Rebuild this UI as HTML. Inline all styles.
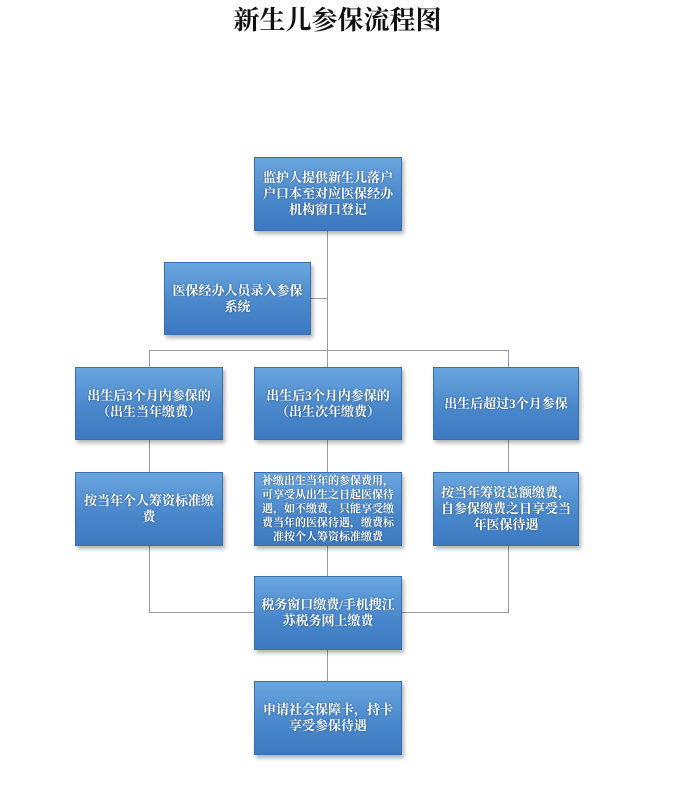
<!DOCTYPE html>
<html><head><meta charset="utf-8"><style>
body{margin:0;width:675px;height:800px;background:#fff;position:relative;font-family:"Liberation Sans","Noto Sans CJK SC",sans-serif;overflow:hidden}
h1{position:absolute;top:0;left:0;width:675px;text-align:center;margin:0;font:bold 26px "Noto Serif CJK SC","Noto Sans CJK SC",serif;line-height:38px;color:#111}
.b{position:absolute;box-sizing:border-box;background:linear-gradient(#6aa6de,#4a88cc 55%,#3d79c0);border:1px solid #3a6fae;box-shadow:2px 3px 4px rgba(0,0,0,.3);color:#fff;font-size:13px;line-height:16px;text-align:center;display:flex;align-items:center;justify-content:center;padding:0 6px;text-shadow:0 0 2px rgba(0,0,0,.4);font-family:"Liberation Serif","Noto Serif CJK SC",serif;font-weight:bold}
.s{font-size:11px;line-height:14px;padding:0 3px}
.l{position:absolute;background:#9a9a9a}
</style></head><body>
<h1>新生儿参保流程图</h1>
<div class="l" style="left:327px;top:231px;width:1px;height:137px"></div>
<div class="l" style="left:311px;top:298px;width:17px;height:1px"></div>
<div class="l" style="left:149px;top:350px;width:360px;height:1px"></div>
<div class="l" style="left:149px;top:350px;width:1px;height:17px"></div>
<div class="l" style="left:508px;top:350px;width:1px;height:17px"></div>
<div class="l" style="left:149px;top:440px;width:1px;height:32px"></div>
<div class="l" style="left:327px;top:440px;width:1px;height:32px"></div>
<div class="l" style="left:508px;top:440px;width:1px;height:32px"></div>
<div class="l" style="left:149px;top:546px;width:1px;height:67px"></div>
<div class="l" style="left:149px;top:612px;width:105px;height:1px"></div>
<div class="l" style="left:327px;top:546px;width:1px;height:30px"></div>
<div class="l" style="left:508px;top:546px;width:1px;height:67px"></div>
<div class="l" style="left:402px;top:612px;width:107px;height:1px"></div>
<div class="l" style="left:327px;top:650px;width:1px;height:31px"></div>

<div class="b" style="left:254px;top:157px;width:148px;height:74px">监护人提供新生儿落户户口本至对应医保经办机构窗口登记</div>
<div class="b" style="left:164px;top:262px;width:147px;height:73px">医保经办人员录入参保系统</div>
<div class="b" style="left:75px;top:367px;width:148px;height:73px">出生后3个月内参保的（出生当年缴费）</div>
<div class="b" style="left:254px;top:367px;width:148px;height:73px">出生后3个月内参保的（出生次年缴费）</div>
<div class="b" style="left:433px;top:367px;width:146px;height:73px">出生后超过3个月参保</div>
<div class="b" style="left:75px;top:472px;width:148px;height:74px;align-items:flex-start;padding-top:20px">按当年个人筹资标准缴费</div>
<div class="b s" style="left:254px;top:472px;width:148px;height:74px">补缴出生当年的参保费用，可享受从出生之日起医保待遇，如不缴费，只能享受缴费当年的医保待遇，缴费标准按个人筹资标准缴费</div>
<div class="b" style="left:433px;top:472px;width:146px;height:74px;align-items:flex-start;padding-top:12px">按当年筹资总额缴费，自参保缴费之日享受当年医保待遇</div>
<div class="b" style="left:254px;top:576px;width:148px;height:74px">税务窗口缴费/手机搜江苏税务网上缴费</div>
<div class="b" style="left:254px;top:681px;width:148px;height:74px">申请社会保障卡，持卡享受参保待遇</div>
</body></html>
